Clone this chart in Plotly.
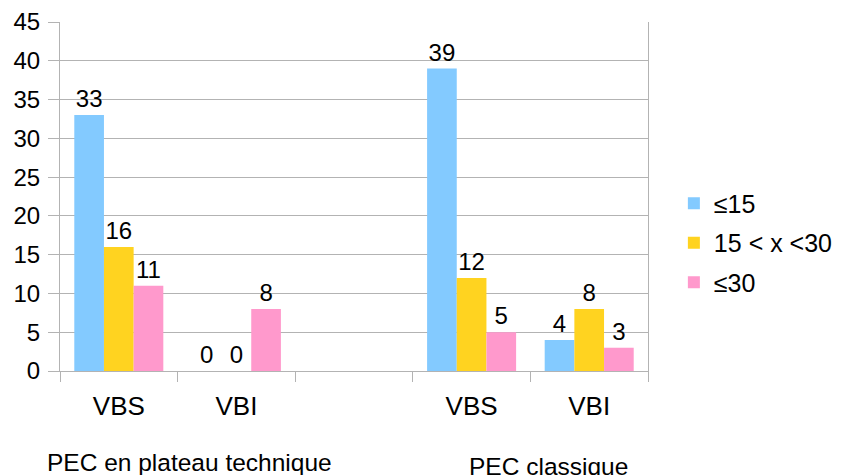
import plotly.graph_objects as go

categories = ["VBS_1", "VBI_1", "gap", "VBS_2", "VBI_2"]
tick_labels = ["VBS", "VBI", "", "VBS", "VBI"]
series_names = ["≤15", "15 < x <30", "≤30"]
vals_le15 = [33, 0, None, 39, 4]
vals_15_30 = [16, 0, None, 12, 8]
vals_ge30 = [11, 8, None, 5, 3]
group_labels = ["PEC en plateau technique", "PEC classique"]
colors = ["#83CAFF", "#FFD320", "#FF99CC"]

FONT = "Liberation Sans, Arial, sans-serif"
fig = go.Figure()
for i, (name, vals) in enumerate(zip(series_names, [vals_le15, vals_15_30, vals_ge30])):
    fig.add_trace(go.Bar(
        x=categories, y=vals, name=name, marker_color=colors[i], marker_line_width=0,
        text=[("" if v is None else str(v)) for v in vals], textposition="outside",
        textfont=dict(size=24, color="black", family=FONT), cliponaxis=False,
        legendgroup=str(i),
    ))

# the page body adds an 8px offset; sizes below compensate for it
fig.update_layout(
    width=833, height=467,
    margin=dict(l=52, r=193, t=14, b=104, autoexpand=False),
    paper_bgcolor="white", plot_bgcolor="white",
    barmode="group", bargap=0.243, bargroupgap=0,
    font=dict(family=FONT, size=24, color="black"),
    showlegend=True,
    legend=dict(x=1.044, xanchor="left", y=0.367, yanchor="middle",
                font=dict(size=25, family=FONT), tracegroupgap=4,
                bgcolor="rgba(0,0,0,0)"),
)
fig.update_xaxes(
    type="category", categoryorder="array", categoryarray=categories,
    range=[-0.5, len(categories) - 0.5], autorange=False,
    tickvals=categories, ticktext=tick_labels,
    tickson="boundaries", ticks="outside", ticklen=10, tickcolor="#b3b3b3",
    showline=True, linecolor="#b3b3b3", linewidth=1, showgrid=False,
    tickfont=dict(size=26, family=FONT), ticklabelstandoff=12, fixedrange=True,
)
fig.update_yaxes(
    range=[0, 45], dtick=5, tick0=0,
    ticks="outside", ticklen=11, tickcolor="#b3b3b3",
    showline=True, linecolor="#b3b3b3", linewidth=1, mirror=True,
    showgrid=True, gridcolor="#b3b3b3", gridwidth=1, zeroline=False,
    tickfont=dict(size=24, family=FONT), ticklabelstandoff=3,
)
fig.add_annotation(x=0.597, y=0, xref="x", yref="paper", yanchor="middle",
                   yshift=-91, text=group_labels[0], showarrow=False,
                   font=dict(size=24.5, family=FONT))
fig.add_annotation(x=3.658, y=0, xref="x", yref="paper", yanchor="middle",
                   yshift=-95, text=group_labels[1], showarrow=False,
                   font=dict(size=24.5, family=FONT))

fig.write_html("out.html")
